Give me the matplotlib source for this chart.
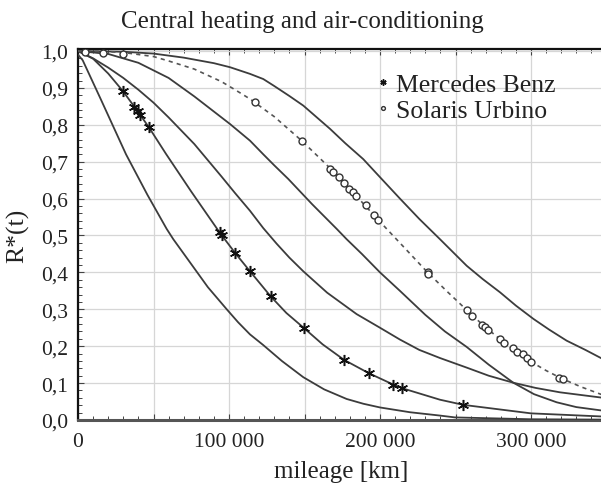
import numpy as np
import matplotlib
matplotlib.use('Agg')
import matplotlib.pyplot as plt
from matplotlib.ticker import MultipleLocator

plt.rcParams['font.family'] = ['Liberation Serif', 'DejaVu Serif']

# fitted / bound curves (mileage in km, R*(t))
xa = [0, 3100, 15000, 31800, 46000, 58700, 63100, 74200, 86000, 98500, 106000, 113900,
      122700, 135000, 149200, 163000, 177900, 189000, 200000, 219900, 239700, 249700,
      300000, 350000]
ya = [0.99, 0.975, 0.87, 0.72, 0.61, 0.518, 0.49, 0.427, 0.36, 0.30, 0.265, 0.232,
      0.203, 0.16, 0.116, 0.083, 0.057, 0.044, 0.034, 0.021, 0.012, 0.007,
      0.002, 0.001]

xb = [0, 10000, 20000, 29600, 37700, 47000, 58300, 75000, 85000, 94000, 104000, 113900,
      127600, 138000, 149700, 162000, 176200, 192500, 208800, 214800, 239700, 255200,
      300000, 350000]
yb = [1.0, 0.979, 0.939, 0.892, 0.847, 0.793, 0.721, 0.619, 0.56, 0.507, 0.453, 0.403,
      0.335, 0.29, 0.249, 0.205, 0.163, 0.127, 0.096, 0.086, 0.055, 0.041,
      0.018, 0.009]

xc = [0, 10000, 20000, 30000, 40000, 50000, 60000, 77000, 95000, 104000, 113900, 122700,
      131500, 140000, 149200, 165000, 184500, 200000, 213200, 226000, 239700, 257400,
      272000, 288300, 303000, 319200, 350000]
yc = [1.0, 0.98, 0.955, 0.927, 0.895, 0.86, 0.82, 0.748, 0.66, 0.615, 0.567, 0.52,
      0.478, 0.44, 0.403, 0.345, 0.287, 0.25, 0.218, 0.19, 0.168, 0.142,
      0.12, 0.101, 0.087, 0.075, 0.059]

xd = [0, 20000, 40000, 60000, 77000, 100700, 113900, 122700, 130000, 139300, 155000,
      171300, 177900, 188000, 200000, 213200, 230000, 243000, 257400, 272000, 288300,
      302000, 317000, 330000, 350000]
yd = [1.0, 0.992, 0.968, 0.927, 0.877, 0.802, 0.757, 0.72, 0.69, 0.653, 0.585,
      0.518, 0.49, 0.45, 0.40, 0.35, 0.285, 0.24, 0.198, 0.15, 0.101,
      0.07, 0.048, 0.035, 0.024]

xe = [0, 30000, 50000, 70000, 90000, 100700, 113900, 122700, 130000, 140000, 149200,
      166900, 177000, 188900, 200000, 213200, 226000, 239700, 257400, 268000, 279500,
      290000, 301600, 312000, 323600, 336000, 350000]
ye = [1.0, 0.998, 0.993, 0.982, 0.967, 0.956, 0.938, 0.924, 0.905, 0.878, 0.852,
      0.789, 0.75, 0.707, 0.658, 0.60, 0.545, 0.49, 0.418, 0.382, 0.346,
      0.31, 0.274, 0.245, 0.215, 0.19, 0.16]

# Solaris fitted curve (dashed)
xs_fit = [0, 16800, 30000, 50000, 60000, 77000, 95000, 104000, 113900, 130000, 148100,
          160000, 170000, 185000, 198900, 215000, 231500, 244000, 257400, 268000, 280000,
          290000, 300000, 310000, 320000, 333000, 350000]
ys_fit = [1.0, 0.999, 0.996, 0.985, 0.973, 0.951, 0.917, 0.895, 0.870, 0.822, 0.757,
          0.71, 0.670, 0.604, 0.542, 0.472, 0.40, 0.35, 0.298, 0.258, 0.217,
          0.186, 0.158, 0.134, 0.113, 0.09, 0.064]

# empirical points
x_mb = [29600, 37300, 39500, 41300, 46800, 94000, 95100, 104000, 113900, 127600,
        149700, 176200, 192500, 208800, 214800, 255200]
y_mb = [0.891, 0.849, 0.838, 0.827, 0.793, 0.509, 0.50, 0.453, 0.403, 0.335,
        0.249, 0.163, 0.127, 0.096, 0.086, 0.041]

x_su = [4600, 16800, 30000, 117200, 148100, 166900, 169100, 173000, 176400, 179700,
        181900, 184100, 190500, 196000, 198900, 231500, 232000, 257400, 260700, 267300,
        269500, 271300, 279500, 282100, 287800, 290900, 294400, 297600, 300000, 318800,
        321400]
y_su = [0.998, 0.995, 0.992, 0.861, 0.757, 0.68, 0.671, 0.658, 0.642, 0.626,
        0.617, 0.608, 0.583, 0.556, 0.542, 0.40, 0.396, 0.298, 0.283, 0.258,
        0.251, 0.245, 0.22, 0.21, 0.195, 0.185, 0.178, 0.167, 0.158, 0.114,
        0.111]

xticks = [0, 50000, 100000, 150000, 200000, 250000, 300000, 350000]
xticklabels = ['0', '', '100 000', '', '200 000', '', '300 000', '']
yticks = [0.0, 0.1, 0.2, 0.3, 0.4, 0.5, 0.6, 0.7, 0.8, 0.9, 1.0]
yticklabels = ['0,0', '0,1', '0,2', '0,3', '0,4', '0,5', '0,6', '0,7', '0,8', '0,9', '1,0']

fig = plt.figure(figsize=(6.01, 4.89), dpi=100)
ax = fig.add_axes([78/601, 68/489, 528.5/601, 371/489])

line_col = '#3c3c3c'
for xx, yy in [(xa, ya), (xb, yb), (xc, yc), (xd, yd), (xe, ye)]:
    ax.plot(xx, yy, color=line_col, lw=1.3, zorder=3)
ax.plot(xs_fit, ys_fit, color='#555555', lw=1.2, ls=(0, (2.5, 2.5)), zorder=3)

ax.plot(x_mb, y_mb, ls='none', marker=(6, 2, 0), ms=8, mew=1.1, color='#111111',
        zorder=4, label='Mercedes Benz')
ax.plot(x_su, y_su, ls='none', marker='o', ms=5, mew=1.0, mec='#333333', mfc='white',
        zorder=4, label='Solaris Urbino')

ax.set_xlim(0, 350000)
ax.set_ylim(0, 1.0054)
ax.set_xticks(xticks)
ax.set_xticklabels(xticklabels)
ax.set_yticks(yticks)
ax.set_yticklabels(yticklabels)
ax.xaxis.set_minor_locator(MultipleLocator(10000))
ax.yaxis.set_minor_locator(MultipleLocator(0.02))
ax.tick_params(which='both', direction='in', top=True, right=False, colors='#444444',
               labelcolor='#222222', labelsize=15.5)
ax.tick_params(which='major', length=4, width=0.8)
ax.tick_params(which='minor', length=3, width=0.7)
ax.tick_params(axis='x', pad=9)
ax.tick_params(axis='y', pad=7)
ax.grid(True, which='major', color='#d6d6d6', lw=0.9, zorder=0)

ax.spines['left'].set_color('#111111')
ax.spines['left'].set_linewidth(1.6)
ax.spines['top'].set_color('#111111')
ax.spines['top'].set_linewidth(1.6)
ax.spines['bottom'].set_color('#555555')
ax.spines['bottom'].set_linewidth(2.2)
ax.spines['right'].set_visible(False)

leg = ax.legend(loc='upper left', bbox_to_anchor=(0.548, 0.962), frameon=False,
                fontsize=18.5, handlelength=0.4, handletextpad=0.3,
                labelspacing=0.1, markerscale=0.55, borderaxespad=0)
for t in leg.get_texts():
    t.set_color('#222222')

fig.text(0.5025, 0.955, 'Central heating and air-conditioning', ha='center', va='center',
         fontsize=18, color='#222222')
fig.text(0.567, 0.035, 'mileage [km]', ha='center', va='center', fontsize=18,
         color='#222222')
fig.text(0.03, 0.517, 'R*(t)', ha='center', va='center', rotation=90, fontsize=18.5,
         color='#222222')

fig.savefig('out.png', dpi=100)
